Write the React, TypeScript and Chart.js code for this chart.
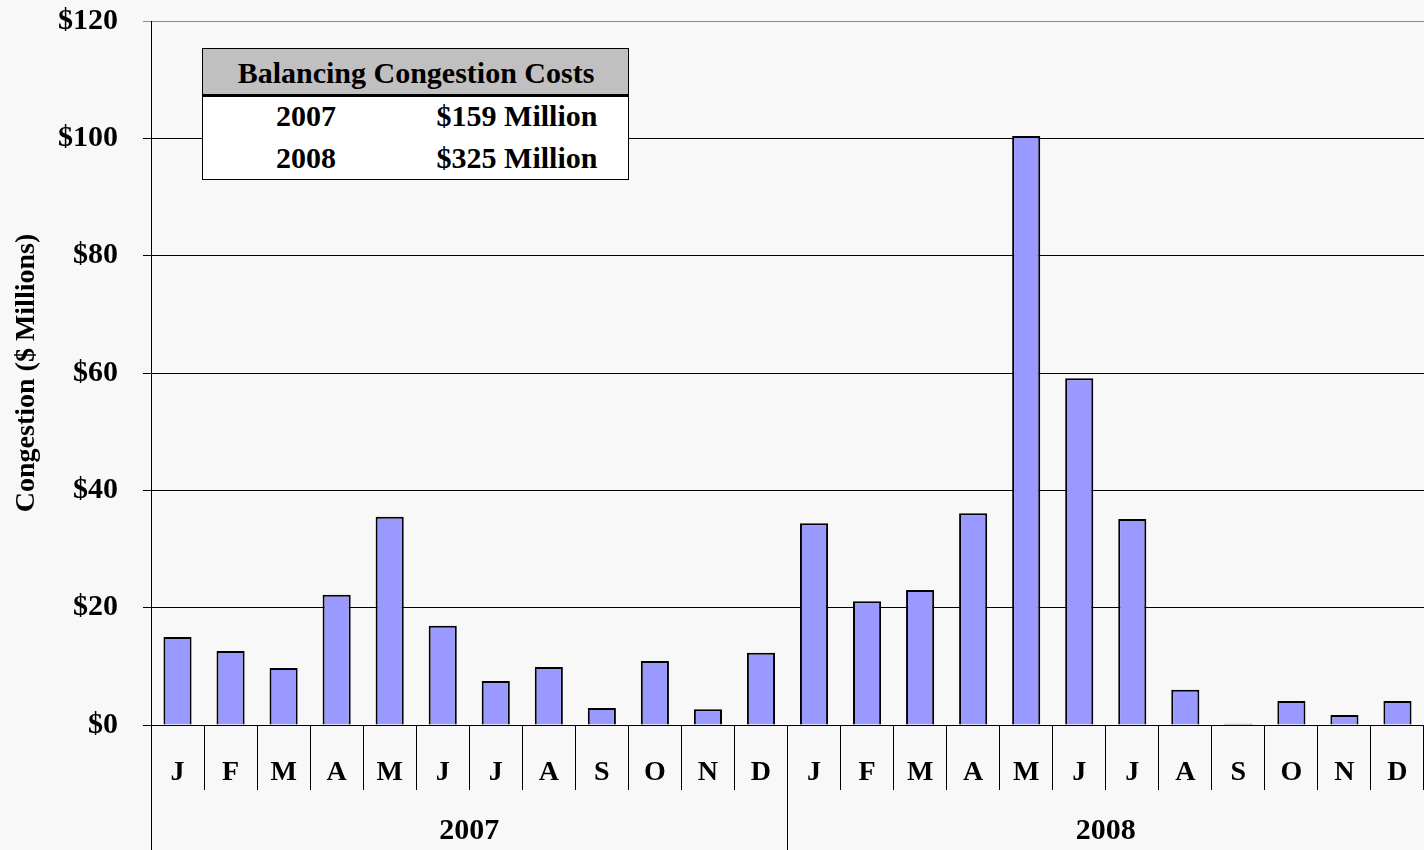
import React, { useEffect, useRef } from "react";
import { Chart, registerables } from "chart.js";

Chart.register(...registerables);

const months = ["J", "F", "M", "A", "M", "J", "J", "A", "S", "O", "N", "D"];
const years = ["2007", "2008"];
const values2007 = [15.0, 12.6, 9.7, 22.2, 35.5, 16.9, 7.5, 9.9, 2.9, 10.9, 2.7, 12.3];
const values2008 = [34.4, 21.1, 23.0, 36.1, 100.4, 59.1, 35.1, 6.0, 0.2, 4.1, 1.7, 4.1];
const yTicks = [0, 20, 40, 60, 80, 100, 120];
const tableTitle = "Balancing Congestion Costs";
const tableRows = [
  ["2007", "$159 Million"],
  ["2008", "$325 Million"],
];

const FONT = "'Liberation Serif', 'Times New Roman', serif";

export default function App() {
  const canvasRef = useRef<HTMLCanvasElement | null>(null);

  useEffect(() => {
    document.body.style.margin = "0";
    const canvas = canvasRef.current;
    if (!canvas) return;
    const chart = new Chart(canvas, {
      type: "bar",
      data: {
        labels: [...months, ...months],
        datasets: [
          {
            data: [...values2007, ...values2008],
            backgroundColor: "#9999ff",
            borderColor: "#000000",
            borderWidth: 2,
            barPercentage: 0.53,
            categoryPercentage: 1,
          },
        ],
      },
      options: {
        responsive: false,
        animation: false,
        layout: { padding: { top: 21, right: 0, left: 0, bottom: 0 } },
        plugins: {
          legend: { display: false },
          tooltip: { enabled: false },
          title: { display: false },
        },
        scales: {
          x: {
            type: "category",
            position: "bottom",
            weight: 0,
            offset: true,
            grid: {
              offset: true,
              drawOnChartArea: false,
              tickLength: 65,
              color: "#000000",
              lineWidth: 1,
            },
            border: { display: true, color: "#000000", width: 1 },
            ticks: {
              color: "#000000",
              font: { family: FONT, size: 28, weight: "bold" },
              padding: -34,
              maxRotation: 0,
              minRotation: 0,
              autoSkip: false,
            },
            afterFit: (s: any) => {
              s.height = 60;
              s.paddingLeft = 0;
              s.paddingRight = 0;
            },
          },
          x2: {
            type: "category",
            position: "bottom",
            weight: 1,
            labels: years,
            offset: true,
            grid: {
              offset: true,
              drawOnChartArea: false,
              tickLength: 65,
              color: "#000000",
              lineWidth: 1,
            },
            border: { display: false },
            ticks: {
              color: "#000000",
              font: { family: FONT, size: 30, weight: "bold" },
              padding: -37,
              maxRotation: 0,
              minRotation: 0,
              autoSkip: false,
            },
            afterFit: (s: any) => {
              s.height = 65;
              s.paddingLeft = 0;
              s.paddingRight = 0;
            },
          },
          y: {
            min: 0,
            max: 120,
            afterBuildTicks: (s: any) => {
              s.ticks = yTicks.map((v) => ({ value: v }));
            },
            grid: {
              color: (ctx: any) => (ctx.tick && ctx.tick.value === 120 ? "#8a8a8a" : "#000000"),
              lineWidth: 1,
              tickLength: 8,
            },
            border: { display: true, color: "#000000", width: 1 },
            ticks: {
              color: "#000000",
              font: { family: FONT, size: 30, weight: "bold" },
              padding: 25,
              callback: (v: any) => "$" + v,
            },
            title: {
              display: true,
              text: "Congestion ($ Millions)",
              color: "#000000",
              font: { family: FONT, size: 28, weight: "bold" },
              padding: { top: 10, bottom: 0 },
            },
            afterFit: (s: any) => {
              s.width = 151;
              s.paddingTop = 21;
              s.paddingBottom = 0;
            },
          },
        },
      },
    });
    return () => chart.destroy();
  }, []);

  const cell: React.CSSProperties = {
    position: "absolute",
    fontFamily: FONT,
    fontWeight: "bold",
    fontSize: 30,
    color: "#000",
    whiteSpace: "nowrap",
    transform: "translate(-50%, -50%)",
    lineHeight: 1,
  };

  return (
    <div
      style={{
        position: "absolute",
        left: 0,
        top: 0,
        width: 1424,
        height: 850,
        background: "#f8f8f8",
        overflow: "hidden",
      }}
    >
      <canvas ref={canvasRef} width={1424} height={850} style={{ display: "block" }} />
      <div
        style={{
          position: "absolute",
          left: 202,
          top: 48,
          width: 427,
          height: 132,
          boxSizing: "border-box",
          border: "1px solid #000",
          background: "#ffffff",
        }}
      >
        <div
          style={{
            position: "absolute",
            left: 0,
            top: 0,
            right: 0,
            height: 45,
            background: "#c0c0c0",
            borderBottom: "3px solid #000",
          }}
        />
        <div style={{ ...cell, left: 213, top: 24 }}>{tableTitle}</div>
        {tableRows.map((r, i) => (
          <React.Fragment key={r[0]}>
            <div style={{ ...cell, left: 103, top: 67 + i * 42 }}>{r[0]}</div>
            <div style={{ ...cell, left: 314, top: 67 + i * 42 }}>{r[1]}</div>
          </React.Fragment>
        ))}
      </div>
    </div>
  );
}
